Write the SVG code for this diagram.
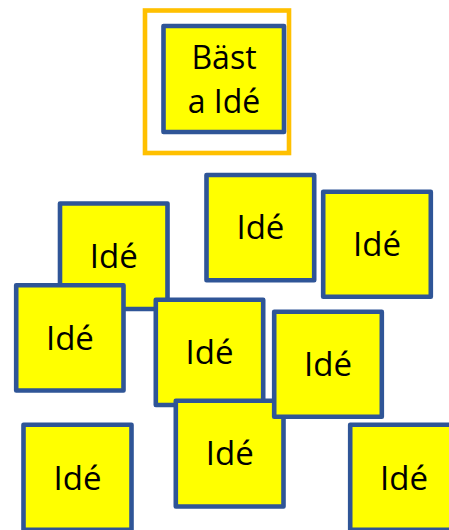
<svg xmlns="http://www.w3.org/2000/svg" width="449" height="530" viewBox="0 0 449 530">
<style>
.box{fill:#FFFF00;stroke:#2F5597;stroke-width:4.6;stroke-linejoin:round}
.t{font-family:"Open Sans","Noto Sans",sans-serif;font-size:33px;fill:#000;text-anchor:middle}
.tb{font-size:32px}
</style>
<rect width="449" height="530" fill="#fff"/>
<g id="best">
<rect x="145" y="10.5" width="144" height="142.5" fill="none" stroke="#FFC000" stroke-width="4.6"/>
<rect class="box" x="163.5" y="26" width="120.5" height="106"/>
<text class="t tb" x="224" y="69">Bäst</text>
<text class="t tb" x="224" y="112.5">a Idé</text>
</g>
<g id="a"><rect class="box" x="60" y="203.5" width="107.5" height="105.5"/><text class="t" x="113.8" y="268">Idé</text></g>
<g id="d"><rect class="box" x="16.2" y="285.2" width="107.3" height="105.3"/><text class="t" x="69.9" y="349.5">Idé</text></g>
<g id="b"><rect class="box" x="206.5" y="175" width="107.7" height="105.2"/><text class="t" x="260.4" y="239">Idé</text></g>
<g id="c"><rect class="box" x="323.2" y="191.8" width="107.6" height="105"/><text class="t" x="377" y="255.8">Idé</text></g>
<g id="e"><rect class="box" x="155.8" y="299.8" width="107.4" height="105.2"/><text class="t" x="209.5" y="364">Idé</text></g>
<g id="g"><rect class="box" x="175.8" y="400.8" width="107.7" height="105.7"/><text class="t" x="229.7" y="465.3">Idé</text></g>
<g id="f"><rect class="box" x="274.2" y="311.8" width="107.6" height="105"/><text class="t" x="328" y="375.8">Idé</text></g>
<g id="h"><rect class="box" x="23.5" y="424.8" width="108" height="105"/><text class="t" x="77.5" y="490">Idé</text></g>
<g id="i"><rect class="box" x="350.2" y="424.8" width="108" height="105"/><text class="t" x="404" y="490">Idé</text></g>
<g id="connectors"/>
</svg>
